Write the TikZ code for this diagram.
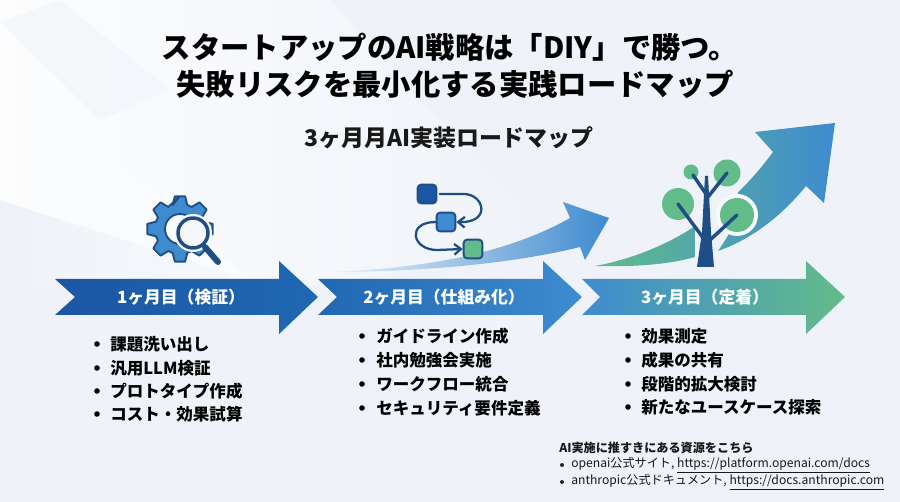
\documentclass[tikz,border=0pt]{standalone}
\usepackage{fontspec}
\setmainfont{Noto Sans CJK JP}
\usetikzlibrary{arrows.meta,fadings}
\definecolor{bgc}{HTML}{EFF3F9}
\definecolor{darkb}{HTML}{1F4E85}
\definecolor{deepb}{HTML}{1B56A4}
\definecolor{midb}{HTML}{2068B2}
\definecolor{skyb}{HTML}{3F8BD0}
\definecolor{leaf}{HTML}{62BC8A}
\tikzset{
  mainarrow/.style={shading=axis,shading angle=90},
  arrowlabel/.style={text=white,font=\fontsize{12.6pt}{15pt}\selectfont\bfseries,inner sep=0pt},
  listitem/.style={anchor=west,inner sep=0pt,text=black,font=\fontsize{12.4pt}{15pt}\selectfont\bfseries},
  bulletdot/.style={fill=black,circle,inner sep=0pt,minimum size=4.2pt},
  smalldot/.style={fill=black!85,circle,inner sep=0pt,minimum size=3pt},
  note/.style={anchor=west,inner sep=0pt,text=black!90,font=\fontsize{9.1pt}{11pt}\selectfont},
  flowbox/.style={draw=darkb,line width=1.4pt,rounded corners=2.5pt,minimum size=14pt,inner sep=0pt},
  flowline/.style={draw=darkb,line width=1.7pt,line cap=round,-{Straight Barb[length=5pt,width=8pt,line width=1.7pt]}},
  branch/.style={draw=darkb,line width=2.6pt,line cap=round},
}
\begin{document}
\begin{tikzpicture}[x=0.75pt,y=-0.75pt]
\useasboundingbox (0,0) rectangle (900,502);
\fill[bgc] (0,0) rectangle (900,502);
% background light beams
\begin{scope}
\clip (0,0) rectangle (900,502);
\fill[white,path fading=east,opacity=.85] (0,0) -- (330,0) -- (560,250) -- (280,290) -- (0,200) -- cycle;
\fill[white,opacity=.5,path fading=west] (0,90) -- (120,160) -- (260,290) -- (0,290) -- cycle;
\fill[bgc,opacity=.5] (0,22) -- (60,0) -- (170,90) -- (100,120) -- cycle;
\end{scope}
% title
\node[inner sep=0pt,font=\fontsize{22pt}{27pt}\selectfont\bfseries,text=black] (title1) at (450,47) {スタートアップのAI戦略は「DIY」で勝つ。};
\node[inner sep=0pt,font=\fontsize{22pt}{27pt}\selectfont\bfseries,text=black] (title2) at (455,84) {失敗リスクを最小化する実践ロードマップ};
\node[inner sep=0pt,font=\fontsize{17.2pt}{21pt}\selectfont\bfseries,text=black!90] (subtitle) at (449,138) {3ヶ月月AI実装ロードマップ};
% swoosh 2
\shade[mainarrow,left color=bgc,right color=skyb]
 (330,272) .. controls (430,268) and (510,252) .. (570,218) -- (563,202) -- (609,218) -- (585,260) -- (580,247)
 .. controls (520,262) and (430,272) .. cycle;
% swoosh 3
\shade[mainarrow,left color=leaf,right color=skyb]
 (595,266) .. controls (650,256) and (720,225) .. (773,152) -- (755,132) -- (835,123) -- (824,203) -- (806,186)
 .. controls (785,212) and (755,238) .. (718,251) -- (718,255) -- (695,257)
 .. controls (670,264) and (640,267) .. cycle;
\fill[bgc] (695,205) -- (738,190) -- (737,215) -- (727,237) -- (718,251) -- (718,268) -- (695,268) -- cycle;
\fill[bgc!40!white] (737,215) circle[radius=21];
% main arrows
\shade[mainarrow,left color=deepb,right color=midb] (55,279) -- (279,279) -- (279,261) -- (318,297) -- (279,334) -- (279,315) -- (55,315) -- (75,297) -- cycle;
\shade[mainarrow,left color=midb,right color=skyb] (318,279) -- (543,279) -- (543,261) -- (582,297) -- (543,334) -- (543,315) -- (318,315) -- (337,297) -- cycle;
\shade[mainarrow,left color=skyb,right color=leaf] (582,279) -- (806,279) -- (806,261) -- (845,297) -- (806,334) -- (806,315) -- (582,315) -- (600,297) -- cycle;
\node[arrowlabel] (m1) at (181,297) {1ヶ月目（検証）};
\node[arrowlabel] (m2) at (444,297) {2ヶ月目（仕組み化）};
\node[arrowlabel] (m3) at (705,297) {3ヶ月目（定着）};
% gear icon
\filldraw[fill=skyb,draw=darkb,line width=1.4pt,line join=round,even odd rule]
 (180,196) \foreach \a in {-90,-45,0,45,90,135,180,225} {
   -- ({180+25*cos(\a-17)},{229+25*sin(\a-17)})
   -- ({180+33*cos(\a-9)},{229+33*sin(\a-9)})
   -- ({180+33*cos(\a+9)},{229+33*sin(\a+9)})
   -- ({180+25*cos(\a+17)},{229+25*sin(\a+17)})
 } -- cycle (180,229) circle[radius=15];
\fill[bgc!50!white] (193,233) circle[radius=19];
\draw[darkb,line width=4.5pt,line cap=round] (205,247) -- (218,262);
\filldraw[fill=bgc!60!white,draw=darkb,line width=2.6pt] (193,233) circle[radius=15];
% flow icon
\node[flowbox,fill=deepb] (f1) at (427,194) {};
\node[flowbox,fill=skyb] (f2) at (446,222) {};
\node[flowbox,fill=leaf] (f3) at (473,249) {};
\draw[flowline] (f1.east) ++(2.5,0) -- ++(24,0) .. controls (484,194) and (492,223) .. (f2.east);
\draw[flowline] (f2.west) .. controls (406,222) and (412,250) .. (437,250) -- (f3.west);
% tree
\fill[leaf] (678,204) circle[radius=16];
\fill[leaf] (691,172) circle[radius=7.5];
\fill[leaf] (727,173) circle[radius=13.5];
\fill[leaf] (737,215) circle[radius=17];
\fill[darkb] (697,267) -- (714,267) -- (711,232) -- (708,176) -- (705,176) -- (702,232) -- cycle;
\draw[branch] (704,239) -- (678,204);
\draw[branch] (709,241) -- (737,215);
\draw[branch] (706,194) -- (693,175);
\draw[branch] (708,197) -- (727,173);
% list 1
\foreach \n/\y/\t in {a/344/課題洗い出し,b/368/汎用LLM検証,c/391/プロトタイプ作成,d/414/コスト・効果試算}{
  \node[bulletdot] (la\n) at (97,\y) {};
  \node[listitem] (ta\n) at (110,\y) {\t};
}
% list 2
\foreach \n/\y/\t in {a/336/ガイドライン作成,b/360/社内勉強会実施,c/384/ワークフロー統合,d/408/セキュリティ要件定義}{
  \node[bulletdot] (lb\n) at (362,\y) {};
  \node[listitem] (tb\n) at (376,\y) {\t};
}
% list 3
\foreach \n/\y/\t in {a/336/効果測定,b/360/成果の共有,c/384/段階的拡大検討,d/407/新たなユースケース探索}{
  \node[bulletdot] (lc\n) at (628,\y) {};
  \node[listitem] (tc\n) at (641,\y) {\t};
}
% notes
\node[note,font=\fontsize{9.1pt}{11pt}\selectfont\bfseries] (n0) at (559,448) {AI実施に推すきにある資源をこちら};
\node[smalldot] (d1) at (562,465) {};
\node[note] (n1) at (571,465) {openai公式サイト, \underline{https://platform.openai.com/docs}};
\node[smalldot] (d2) at (562,482) {};
\node[note] (n2) at (571,482) {anthropic公式ドキュメント, \underline{https://docs.anthropic.com}};
\end{tikzpicture}
\end{document}
